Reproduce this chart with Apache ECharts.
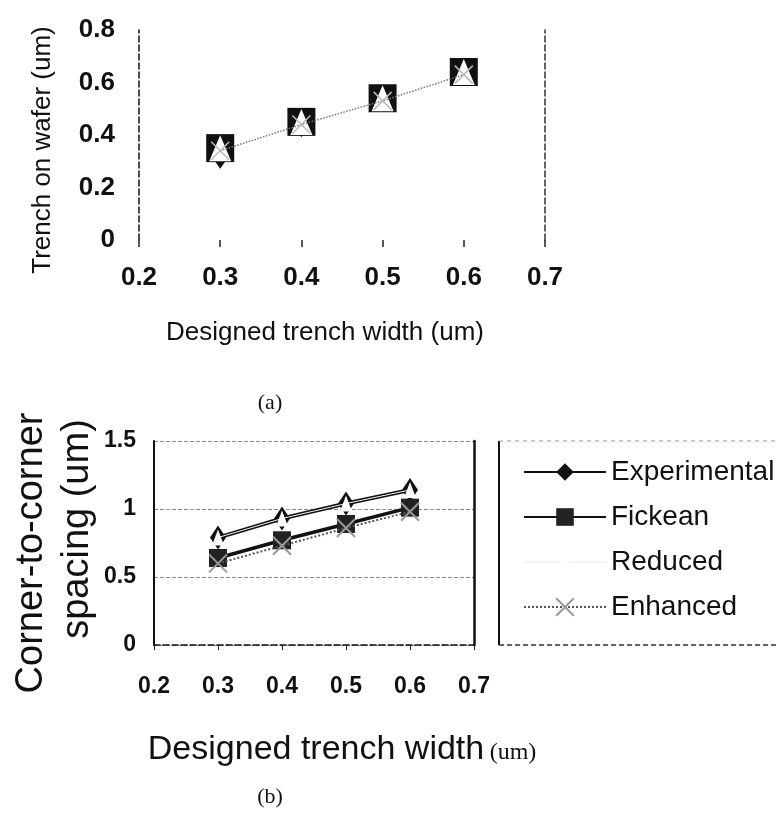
<!DOCTYPE html>
<html>
<head>
<meta charset="utf-8">
<script src="https://cdn.jsdelivr.net/npm/echarts@6/dist/echarts.min.js"></script>
<style>
  html, body { margin: 0; padding: 0; background: #fff; }
  #chart { width: 778px; height: 819px; }
</style>
</head>
<body>
<div id="chart"></div>
<script>
// x positions shared by both panels (designed trench width, um)
const widths = [0.3, 0.4, 0.5, 0.6];

// panel (a): trench on wafer (um)
const aExperimental = [0.31, 0.43, 0.53, 0.63];
const aFickean = [0.35, 0.45, 0.54, 0.64];
const aReduced = [0.35, 0.45, 0.54, 0.64];
const aEnhanced = [0.34, 0.44, 0.53, 0.63];

// panel (b): corner-to-corner spacing (um)
const bExperimental = [0.79, 0.93, 1.04, 1.14];
const bFickean = [0.64, 0.77, 0.89, 1.01];
const bReduced = [0.79, 0.93, 1.04, 1.14];
const bEnhanced = [0.6, 0.73, 0.86, 0.98];

const seriesNames = ["Experimental", "Fickean", "Reduced", "Enhanced"];

const SANS = "'Liberation Sans', Arial, sans-serif";
const SERIF = "'Liberation Serif', 'Times New Roman', serif";
const X_MARK = "path://M0,0 L10,10 M10,0 L0,10";

const pts = (ys) => widths.map((x, i) => [x, ys[i]]);
const fmt1 = (v) => v.toFixed(1);

const chart = echarts.init(document.getElementById("chart"));

const option = {
  animation: false,
  backgroundColor: "#fff",
  grid: [
    { left: 139, right: 233, top: 30, bottom: 579 },
    { left: 154, right: 304, top: 441, bottom: 174 },
  ],
  xAxis: [
    {
      gridIndex: 0,
      type: "value",
      min: 0.2,
      max: 0.7,
      interval: 0.1,
      axisLine: { show: false },
      axisTick: { show: true, length: 7, inside: false, lineStyle: { color: "#222", width: 1.5 } },
      splitLine: { show: false },
      axisLabel: { margin: 25, fontFamily: SANS, fontSize: 26, fontWeight: "bold", color: "#111", formatter: fmt1 },
    },
    {
      gridIndex: 1,
      type: "value",
      min: 0.2,
      max: 0.7,
      interval: 0.1,
      axisLine: { show: true, lineStyle: { color: "#111", width: 1.5, type: "dashed" } },
      axisTick: { show: true, length: 5, lineStyle: { color: "#222", width: 1 } },
      splitLine: { show: false },
      axisLabel: { margin: 30, fontFamily: SANS, fontSize: 23, fontWeight: "bold", color: "#111", formatter: fmt1 },
    },
  ],
  yAxis: [
    {
      gridIndex: 0,
      type: "value",
      min: 0,
      max: 0.8,
      interval: 0.2,
      axisLine: { show: true, lineStyle: { color: "#111", width: 1.5, type: "dashed" } },
      axisTick: { show: false },
      splitLine: { show: false },
      axisLabel: { margin: 24, fontFamily: SANS, fontSize: 26, fontWeight: "bold", color: "#111" },
    },
    {
      gridIndex: 0,
      type: "value",
      position: "right",
      min: 0,
      max: 0.8,
      interval: 0.2,
      axisLine: { show: true, lineStyle: { color: "#333", width: 1.5, type: "dashed" } },
      axisTick: { show: false },
      axisLabel: { show: false },
      splitLine: { show: false },
    },
    {
      gridIndex: 1,
      type: "value",
      min: 0,
      max: 1.5,
      interval: 0.5,
      axisLine: { show: true, lineStyle: { color: "#111", width: 2 } },
      axisTick: { show: false },
      splitLine: { show: true, lineStyle: { color: "#888", width: 1, type: "dashed" } },
      axisLabel: { margin: 18, fontFamily: SANS, fontSize: 23, fontWeight: "bold", color: "#111" },
    },
    {
      gridIndex: 1,
      type: "value",
      position: "right",
      min: 0,
      max: 1.5,
      interval: 0.5,
      axisLine: { show: true, lineStyle: { color: "#111", width: 2.5 } },
      axisTick: { show: false },
      axisLabel: { show: false },
      splitLine: { show: false },
    },
  ],
  legend: {
    data: seriesNames,
    orient: "vertical",
    left: 518,
    top: 453,
    itemWidth: 82,
    itemHeight: 22,
    itemGap: 17,
    selectedMode: false,
    textStyle: { fontFamily: SANS, fontSize: 28, color: "#111", lineHeight: 28 },
  },
  series: [
    // panel (a)
    {
      name: "a-Experimental",
      type: "line",
      xAxisIndex: 0,
      yAxisIndex: 0,
      data: pts(aExperimental),
      symbol: "diamond",
      symbolSize: [14, 20],
      lineStyle: { width: 0, opacity: 0 },
      itemStyle: { color: "#111" },
      z: 2,
    },
    {
      name: "a-Fickean",
      type: "line",
      xAxisIndex: 0,
      yAxisIndex: 0,
      data: pts(aFickean),
      symbol: "rect",
      symbolSize: 28,
      lineStyle: { width: 0, opacity: 0 },
      itemStyle: { color: "#111" },
      z: 3,
    },
    {
      name: "a-Reduced",
      type: "line",
      xAxisIndex: 0,
      yAxisIndex: 0,
      data: pts(aReduced),
      symbol: "triangle",
      symbolSize: [22, 26],
      lineStyle: { width: 0, opacity: 0 },
      itemStyle: { color: "#fff" },
      z: 4,
    },
    {
      name: "a-Enhanced",
      type: "line",
      xAxisIndex: 0,
      yAxisIndex: 0,
      data: pts(aEnhanced),
      symbol: X_MARK,
      symbolSize: 18,
      lineStyle: { color: "#777", width: 1.5, type: "dotted" },
      itemStyle: { color: "#fff", borderColor: "#bbb", borderWidth: 1.5 },
      z: 5,
    },
    // panel (b)
    {
      name: "Experimental",
      type: "line",
      xAxisIndex: 1,
      yAxisIndex: 2,
      data: pts(bExperimental),
      symbol: "diamond",
      symbolSize: [16, 24],
      lineStyle: { color: "#111", width: 4 },
      itemStyle: { color: "#111" },
      z: 2,
    },
    {
      name: "Fickean",
      type: "line",
      xAxisIndex: 1,
      yAxisIndex: 2,
      data: pts(bFickean),
      symbol: "rect",
      symbolSize: 18,
      lineStyle: { color: "#111", width: 3.5 },
      itemStyle: { color: "#222" },
      z: 3,
    },
    {
      name: "Reduced",
      type: "line",
      xAxisIndex: 1,
      yAxisIndex: 2,
      data: pts(bReduced),
      symbol: "triangle",
      symbolSize: [12, 16],
      lineStyle: { color: "#f4f4f4", width: 1 },
      itemStyle: { color: "#fff" },
      z: 4,
    },
    {
      name: "Enhanced",
      type: "line",
      xAxisIndex: 1,
      yAxisIndex: 2,
      data: pts(bEnhanced),
      symbol: X_MARK,
      symbolSize: 18,
      lineStyle: { color: "#555", width: 2, type: "dotted" },
      itemStyle: { color: "#fff", borderColor: "#999", borderWidth: 2 },
      z: 5,
    },
  ],
  graphic: [
    // panel (a) titles
    {
      type: "text",
      x: 43,
      y: 150,
      rotation: Math.PI / 2,
      style: { text: "Trench on wafer (um)", font: "26px " + SANS, fill: "#111", textAlign: "center", textVerticalAlign: "middle" },
    },
    {
      type: "text",
      x: 325,
      y: 333,
      style: { text: "Designed trench width (um)", font: "26px " + SANS, fill: "#111", textAlign: "center", textVerticalAlign: "middle" },
    },
    {
      type: "text",
      x: 270,
      y: 403,
      style: { text: "(a)", font: "22px " + SERIF, fill: "#111", textAlign: "center", textVerticalAlign: "middle" },
    },
    // panel (b) titles
    {
      type: "text",
      x: 32,
      y: 553,
      rotation: Math.PI / 2,
      style: { text: "Corner-to-corner", font: "38px " + SANS, fill: "#111", textAlign: "center", textVerticalAlign: "middle" },
    },
    {
      type: "text",
      x: 78,
      y: 529,
      rotation: Math.PI / 2,
      style: { text: "spacing (um)", font: "38px " + SANS, fill: "#111", textAlign: "center", textVerticalAlign: "middle" },
    },
    {
      type: "text",
      x: 316,
      y: 750,
      style: { text: "Designed trench width", font: "34px " + SANS, fill: "#111", textAlign: "center", textVerticalAlign: "middle" },
    },
    {
      type: "text",
      x: 513,
      y: 753,
      style: { text: "(um)", font: "24px " + SERIF, fill: "#111", textAlign: "center", textVerticalAlign: "middle" },
    },
    {
      type: "text",
      x: 270,
      y: 797,
      style: { text: "(b)", font: "22px " + SERIF, fill: "#111", textAlign: "center", textVerticalAlign: "middle" },
    },
    // legend frame of panel (b)
    {
      type: "line",
      shape: { x1: 499, y1: 441, x2: 499, y2: 645 },
      style: { stroke: "#111", lineWidth: 2 },
    },
    {
      type: "line",
      shape: { x1: 499, y1: 441, x2: 778, y2: 441 },
      style: { stroke: "#999", lineWidth: 1, lineDash: [4, 4] },
    },
    {
      type: "line",
      shape: { x1: 499, y1: 645, x2: 778, y2: 645 },
      style: { stroke: "#333", lineWidth: 1.5, lineDash: [5, 3] },
    },
  ],
};

chart.setOption(option);
</script>
</body>
</html>
